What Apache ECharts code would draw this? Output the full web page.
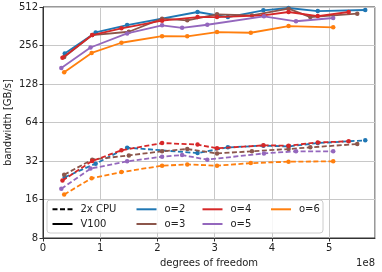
<!DOCTYPE html>
<html><head><meta charset="utf-8">
<script src="https://cdn.jsdelivr.net/npm/echarts@6/dist/echarts.min.js"></script>
<style>html,body{margin:0;padding:0;background:#fff}#c{width:382px;height:272px}</style>
</head><body><div id="c"></div>
<script>
// x tick labels (units of 1e8 degrees of freedom), y tick labels (GB/s)
const xTicks = [0, 1, 2, 3, 4, 5];
const yTicks = [8, 16, 32, 64, 128, 256, 512];
const orders = ['o=2', 'o=3', 'o=4', 'o=5', 'o=6'];

// degrees of freedom per polynomial order (x 1e8)
const dof_o2 = [0.38, 0.92, 1.47, 2.70, 3.23, 3.85, 4.29, 4.80, 5.63];
const dof_o3 = [0.37, 0.86, 1.50, 2.08, 2.52, 3.04, 3.65, 4.29, 4.67, 5.49];
const dof_o4 = [0.34, 0.86, 1.37, 2.08, 2.70, 3.04, 3.85, 4.29, 4.80, 5.34];
const dof_o5 = [0.32, 0.83, 1.47, 2.08, 2.43, 2.87, 3.86, 4.42, 5.07];
const dof_o6 = [0.37, 0.85, 1.37, 2.08, 2.52, 3.04, 3.63, 4.29, 5.07];

// V100 bandwidth [GB/s]
const gpu_o2 = [222, 324, 370, 468, 427, 482, 503, 476, 485];
const gpu_o3 = [208, 309, 328, 415, 403, 449, 440, 497, 427, 454];
const gpu_o4 = [205, 309, 349, 400, 427, 427, 441, 468, 435, 468];
const gpu_o5 = [171, 247, 318, 368, 352, 372, 433, 396, 420];
const gpu_o6 = [158, 224, 269, 303, 302, 326, 322, 363, 355];

// 2x CPU bandwidth [GB/s]
const cpu_o2 = [23.9, 30.5, 40.7, 36.9, 40.9, 42.2, 41.6, 44.2, 46.4];
const cpu_o3 = [25.0, 32.8, 35.4, 38.1, 39.7, 36.7, 38.1, 39.7, 40.9, 43.4];
const cpu_o4 = [22.5, 32.0, 38.8, 44.2, 43.0, 40.2, 42.4, 42.2, 44.7, 45.6];
const cpu_o5 = [19.4, 27.9, 31.8, 34.6, 35.6, 32.8, 36.7, 38.1, 38.1];
const cpu_o6 = [17.5, 23.5, 26.2, 29.4, 30.1, 29.4, 30.8, 31.6, 31.8];

const colors = ['#1f77b4', '#8c564b', '#d62728', '#9467bd', '#ff7f0e'];
const dofs = [dof_o2, dof_o3, dof_o4, dof_o5, dof_o6];
const gpus = [gpu_o2, gpu_o3, gpu_o4, gpu_o5, gpu_o6];
const cpus = [cpu_o2, cpu_o3, cpu_o4, cpu_o5, cpu_o6];

const FONT = 'DejaVu Sans';
function pairs(xs, ys) { return xs.map((x, i) => [x, ys[i]]); }

const series = [
  { name: '2x CPU', type: 'line', data: [], color: '#000', symbol: 'none',
    lineStyle: { width: 1.8, type: [5, 2.5], color: '#000' } },
  { name: 'V100', type: 'line', data: [], color: '#000', symbol: 'none',
    lineStyle: { width: 1.8, color: '#000' } }
];
orders.forEach((o, k) => {
  series.push({ name: o, type: 'line', data: pairs(dofs[k], gpus[k]), color: colors[k],
    symbol: 'circle', symbolSize: 4.5, lineStyle: { width: 1.8 }, z: 3 + k });
});
orders.forEach((o, k) => {
  series.push({ name: o, type: 'line', data: pairs(dofs[k], cpus[k]), color: colors[k],
    symbol: 'circle', symbolSize: 4.5, lineStyle: { width: 1.8, type: [5, 2.5] }, z: 3 + k });
});

function legendCol(names, left) {
  return {
    orient: 'vertical', left: left, top: 203.3, padding: 0, itemWidth: 20, itemHeight: 12, itemGap: 2.7,
    data: names, selectedMode: false, z: 20,
    itemStyle: { opacity: 0 },
    textStyle: { fontFamily: FONT, fontSize: 10, color: '#222', lineHeight: 12, padding: [0, 0, 0, 3] }
  };
}

const chart = echarts.init(document.getElementById('c'), null, { renderer: 'canvas' });
chart.setOption({
  animation: false,
  backgroundColor: '#fff',
  grid: { left: 43, right: 7, top: 7, bottom: 34, show: true, borderColor: '#333', borderWidth: 1, backgroundColor: 'transparent' },
  xAxis: {
    type: 'value', min: 0, max: 5.8, interval: 1,
    axisLine: { lineStyle: { color: '#333' } },
    axisTick: { show: true, length: 3.5, lineStyle: { color: '#333' } },
    axisLabel: { margin: 5, fontFamily: FONT, fontSize: 10, color: '#222', showMaxLabel: false,
      formatter: v => (xTicks.indexOf(v) >= 0 ? String(v) : '') },
    splitLine: { show: true, lineStyle: { color: '#c8c8c8', width: 1 } }
  },
  yAxis: {
    type: 'log', logBase: 2, min: yTicks[0], max: yTicks[yTicks.length - 1],
    axisLine: { show: true, lineStyle: { color: '#333' } },
    axisTick: { show: true, length: 3.5, lineStyle: { color: '#333' } },
    axisLabel: { margin: 5, fontFamily: FONT, fontSize: 10, color: '#222',
      formatter: v => String(Math.round(v)) },
    splitLine: { show: true, lineStyle: { color: '#c8c8c8', width: 1 } }
  },
  legend: [
    legendCol(['2x CPU', 'V100'], 51.5),
    legendCol(['o=2', 'o=3'], 135.5),
    legendCol(['o=4', 'o=5'], 201.5),
    legendCol(['o=6'], 270)
  ],
  graphic: [
    { type: 'rect', z: 15, shape: { x: 47, y: 200, width: 276, height: 33, r: 3 },
      style: { fill: 'rgba(255,255,255,0.85)', stroke: '#cccccc', lineWidth: 1 } },
    { type: 'text', x: 8, y: 122.5, rotation: Math.PI / 2, z: 20,
      style: { text: 'bandwidth [GB/s]', fontFamily: FONT, fontSize: 10, fill: '#222', align: 'center', verticalAlign: 'middle' } },
    { type: 'text', x: 209, y: 263.5, z: 20,
      style: { text: 'degrees of freedom', fontFamily: FONT, fontSize: 10, fill: '#222', align: 'center', verticalAlign: 'middle' } },
    { type: 'text', x: 375, y: 263, z: 20,
      style: { text: '1e8', fontFamily: FONT, fontSize: 10, fill: '#222', align: 'right', verticalAlign: 'middle' } }
  ],
  series: series
});
</script></body></html>
